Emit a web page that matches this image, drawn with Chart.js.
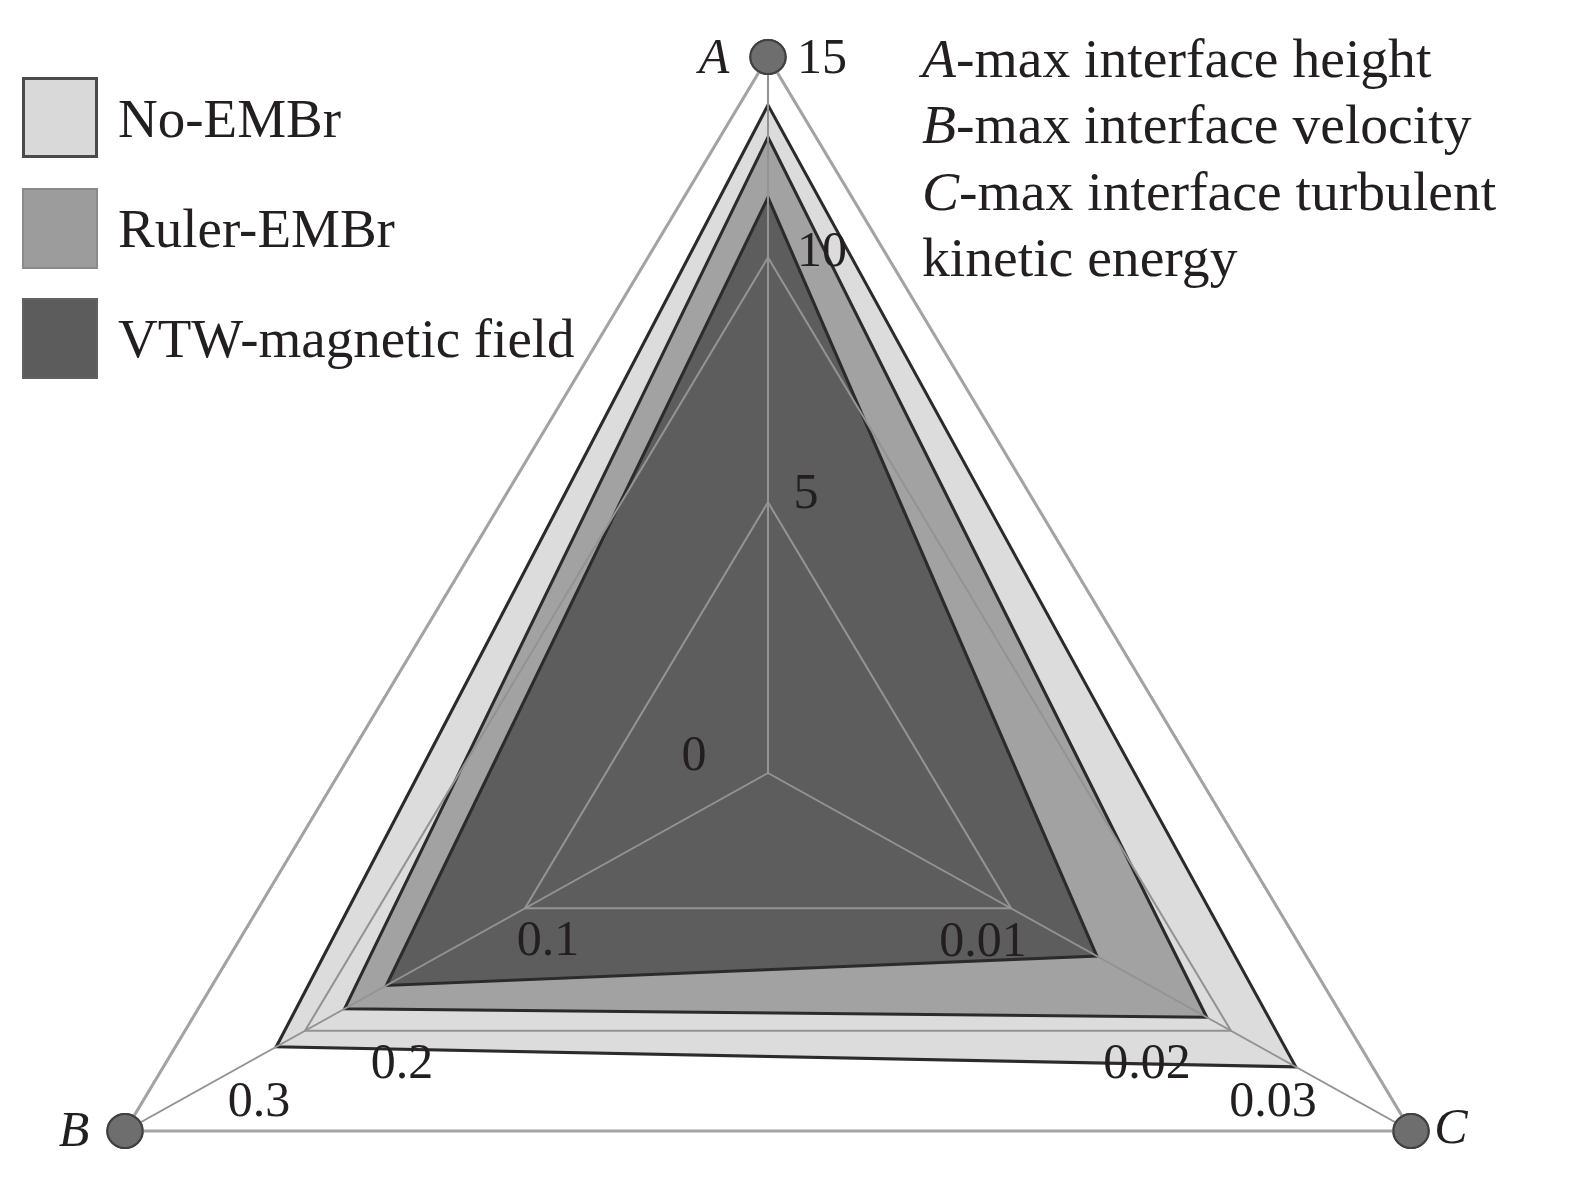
<!DOCTYPE html>
<html>
<head>
<meta charset="utf-8">
<script src="https://cdn.jsdelivr.net/npm/chart.js@4/dist/chart.umd.min.js"></script>
<style>
html,body{margin:0;padding:0;background:#fff;width:1575px;height:1182px;overflow:hidden;}
#wrap{position:relative;width:1575px;height:1182px;overflow:hidden;background:#fff;}
#c{position:absolute;left:0;top:0;}
.t{position:absolute;font-family:"Liberation Serif","Times New Roman",serif;font-size:55px;line-height:55px;color:#231f20;white-space:nowrap;z-index:2;}
.n{font-size:55.6px;}
.box{position:absolute;left:22px;width:76px;height:81px;box-sizing:border-box;z-index:2;}
</style>
</head>
<body>
<div id="wrap">
<canvas id="c" width="1575" height="1500"></canvas>
<div class="box" style="top:77px;background:#d9d9d9;border:3px solid #4a4a4a;"></div>
<div class="box" style="top:188px;background:#9c9c9c;border:2px solid #8a8a8a;"></div>
<div class="box" style="top:298px;background:#5c5c5c;border:2px solid #626262;"></div>
<div class="t" id="lg0" style="left:118px;top:91px;"></div>
<div class="t" id="lg1" style="left:118px;top:201px;"></div>
<div class="t" id="lg2" style="left:118px;top:311px;"></div>
<div class="t n" style="left:922px;top:31px;"><i>A</i>-max interface height</div>
<div class="t n" style="left:922px;top:97px;"><i>B</i>-max interface velocity</div>
<div class="t n" style="left:922px;top:164px;"><i>C</i>-max interface turbulent</div>
<div class="t n" style="left:922px;top:230px;">kinetic energy</div>
</div>
<script>
// ---- data (axes listed clockwise from the top: A, C, B) ----
const axisNames = ['A', 'C', 'B'];
const tickValuesA = [0, 5, 10, 15];
const tickValuesB = [0, 0.1, 0.2, 0.3];
const tickValuesC = [0, 0.01, 0.02, 0.03];
const seriesNames = ['No-EMBr', 'Ruler-EMBr', 'VTW-magnetic field'];
// values given as [A, B, C]
const noEMBr    = [13.8, 0.216, 0.0236];
const rulerEMBr = [13.0, 0.182, 0.0189];
const vtwField  = [11.5, 0.163, 0.0139];

// ---- scale geometry ----
const gridFractions = [0, 0.378, 0.72, 1];   // radial position of each tick ring
const tickSets = [tickValuesA, tickValuesC, tickValuesB]; // in chart (clockwise) order
const K = 1.037; // horizontal stretch of the figure

function toFrac(v, ticks) {
  for (let i = 1; i < ticks.length; i++) {
    if (v <= ticks[i] || i === ticks.length - 1) {
      const t = (v - ticks[i-1]) / (ticks[i] - ticks[i-1]);
      return gridFractions[i-1] + t * (gridFractions[i] - gridFractions[i-1]);
    }
  }
}
function ordered(vals) { // [A,B,C] -> chart order [A,C,B], normalised
  const abc = [vals[0], vals[2], vals[1]];
  return abc.map((v, i) => toFrac(v, tickSets[i]));
}
const axisMax = [tickValuesA[3], tickValuesB[3], tickValuesC[3]];

seriesNames.forEach((n, i) => document.getElementById('lg' + i).textContent = n);

const FONT = '"Liberation Serif","Times New Roman",serif';
// label offsets (pixels) from the ring vertex they annotate
const tickOffsets = [
  [[38,-7],[54,-5],[54,3]],        // A: 5, 10, 15
  [[-28,35],[-84,34],[-138,-28]],  // C: 0.01, 0.02, 0.03
  [[23,34],[97,34],[134,-28]]      // B: 0.1, 0.2, 0.3
];
const nameOffsets = [[-54,3],[40,-1],[-51,2]];

const overlay = {
  id: 'overlay',
  beforeDraw(chart) {
    const s = chart.scales.r, ctx = chart.ctx;
    ctx.save();
    ctx.translate(s.xCenter, 0);
    ctx.scale(K, 1);
    ctx.translate(-s.xCenter, 0);
  },
  afterDraw(chart) {
    const s = chart.scales.r, ctx = chart.ctx;
    // vertex markers on top of grid
    chart.getDatasetMeta(3).controller.draw();
    ctx.restore();
    const sx = x => s.xCenter + K * (x - s.xCenter);
    ctx.save();
    ctx.fillStyle = '#231f20';
    ctx.textAlign = 'center';
    ctx.textBaseline = 'middle';
    ctx.font = '50px ' + FONT;
    for (let a = 0; a < 3; a++) {
      for (let k = 1; k < 4; k++) {
        const p = s.getPointPositionForValue(a, gridFractions[k]);
        const o = tickOffsets[a][k-1];
        ctx.fillText(String(tickSets[a][k]), sx(p.x) + o[0], p.y + o[1]);
      }
    }
    ctx.fillText(String(tickValuesA[0]), s.xCenter - 74, s.yCenter - 16);
    ctx.font = 'italic 50px ' + FONT;
    for (let a = 0; a < 3; a++) {
      const p = s.getPointPositionForValue(a, 1);
      ctx.fillText(axisNames[a], sx(p.x) + nameOffsets[a][0], p.y + nameOffsets[a][1]);
    }
    ctx.restore();
  }
};

const common = {fill: true, borderColor: '#2b2b2b', borderWidth: 3, pointRadius: 0, borderJoinStyle: 'miter'};
new Chart(document.getElementById('c'), {
  type: 'radar',
  data: {
    labels: axisNames,
    datasets: [
      Object.assign({label: seriesNames[0], data: ordered(noEMBr), backgroundColor: '#dcdcdc', order: 3}, common),
      Object.assign({label: seriesNames[1], data: ordered(rulerEMBr), backgroundColor: '#a2a2a2', order: 2}, common),
      Object.assign({label: seriesNames[2], data: ordered(vtwField), backgroundColor: '#5d5d5d', order: 1}, common),
      {label: 'axes', data: ordered(axisMax), showLine: false, fill: false, pointRadius: 17,
       pointBackgroundColor: '#6e6e6e', pointBorderColor: '#404040', pointBorderWidth: 2, order: 0}
    ]
  },
  options: {
    responsive: false,
    animation: false,
    events: [],
    layout: {padding: {top: 57, bottom: 11, left: 52, right: 91}},
    plugins: {legend: {display: false}, tooltip: {enabled: false}},
    scales: {
      r: {
        min: 0, max: 1,
        afterBuildTicks: (scale) => { scale.ticks = gridFractions.map(v => ({value: v})); },
        ticks: {display: false, z: 1},
        pointLabels: {display: false},
        grid: {
          z: 1,
          circular: false,
          color: (c) => c.index === 3 ? '#a3a3a3' : '#939393',
          lineWidth: (c) => c.index === 3 ? 3 : 2
        },
        angleLines: {display: true, color: '#939393', lineWidth: 2}
      }
    }
  },
  plugins: [overlay]
});
</script>
</body>
</html>
